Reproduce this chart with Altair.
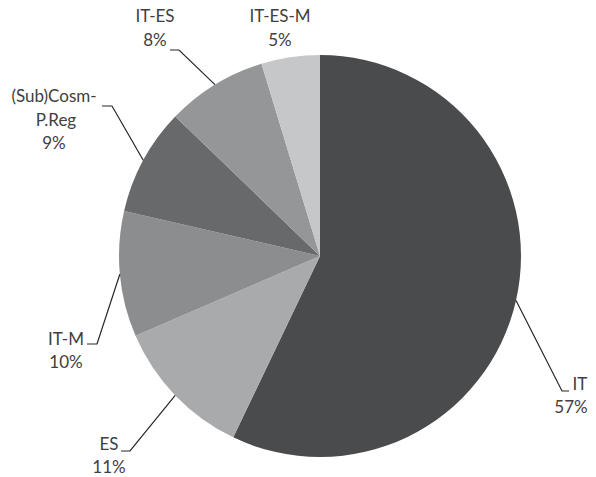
import math
import altair as alt
import pandas as pd

# ---- data ----
categories = ["IT", "ES", "IT-M", "(Sub)Cosm-P.Reg", "IT-ES", "IT-ES-M"]
values = [57.1, 11.4, 10.1, 8.6, 8.1, 4.7]
label_lines = [["IT", "57%"], ["ES", "11%"], ["IT-M", "10%"],
               ["(Sub)Cosm-", "P.Reg", "9%"], ["IT-ES", "8%"], ["IT-ES-M", "5%"]]
colors = ["#4a4b4d", "#a9aaac", "#8c8d8f", "#68696b", "#959698", "#c6c7c9"]

# ---- layout (page pixel coordinates) ----
W, H = 580, 455
CX, CY, R = 320, 252, 201
LH = 23.5
# centre x of each label line, and first-line y of each label
label_x = [[580, 571], [109, 109], [66, 66], [54, 56, 54], [155, 155], [280, 280]]
label_y = [380.5, 440.5, 335.5, 93, 13, 13]
elbow = [(562, 387), (130, 447), (97, 340), (112, 102), (179, 46), None]
line_end = [(569, 387), (121, 447), (87, 340), (102, 102), (170, 46), None]

pie_df = pd.DataFrame({"cat": categories, "val": values, "idx": list(range(len(values)))})

total = sum(values)
lab_rows, lead_rows = [], []
cum = 0.0
for i, v in enumerate(values):
    mid = (cum + v / 2) / total * 2 * math.pi
    cum += v
    for j, line in enumerate(label_lines[i]):
        lab_rows.append({"cat": categories[i], "text": line,
                         "x": label_x[i][j], "y": label_y[i] + j * LH})
    if elbow[i] is not None:
        ax = CX + R * math.sin(mid)
        ay = CY - R * math.cos(mid)
        pts = [(ax, ay), elbow[i], line_end[i]]
        for k, (px, py) in enumerate(pts):
            lead_rows.append({"cat": categories[i], "k": k, "x": px, "y": py})

lab_df = pd.DataFrame(lab_rows)
lead_df = pd.DataFrame(lead_rows)

xs = alt.Scale(domain=[8, 8 + W], range=[0, W])
ys = alt.Scale(domain=[8, 8 + H], range=[0, H])

pie = alt.Chart(pie_df).mark_arc(outerRadius=R).encode(
    theta=alt.Theta("val:Q", stack=True),
    order=alt.Order("idx:Q"),
    color=alt.Color("cat:N", scale=alt.Scale(domain=categories, range=colors), legend=None),
    x=alt.value(CX - 8),
    y=alt.value(CY - 8),
)

leaders = alt.Chart(lead_df).mark_line(color="#262626", strokeWidth=1.2).encode(
    x=alt.X("x:Q", scale=xs, axis=None),
    y=alt.Y("y:Q", scale=ys, axis=None),
    detail="cat:N",
    order="k:Q",
)

labels = alt.Chart(lab_df).mark_text(
    font="Lato", fontSize=17, color="#404040", align="center", baseline="middle",
).encode(
    x=alt.X("x:Q", scale=xs, axis=None),
    y=alt.Y("y:Q", scale=ys, axis=None),
    text="text:N",
)

chart = alt.layer(pie, leaders, labels).properties(
    width=W, height=H, padding=0
).configure_view(stroke=None)

chart.save("out.html", embed_options={"renderer": "svg", "actions": False})
